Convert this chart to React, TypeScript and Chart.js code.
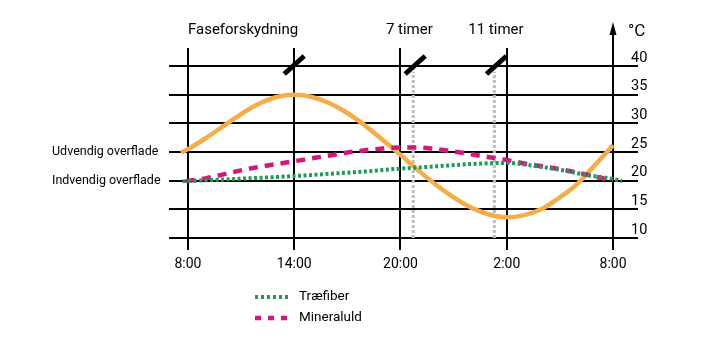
import React, { useEffect, useRef } from 'react';
import { Chart, registerables } from 'chart.js';

Chart.register(...registerables);

// ---- data ----
const hourTicks = [0, 6, 12, 18, 24];
const hourLabels = ['8:00', '14:00', '20:00', '2:00', '8:00'];
const tempTicks = [10, 15, 20, 25, 30, 35, 40];

const outsideHours = [-0.4, 0, 1, 2, 3, 4, 5, 6, 7, 8, 9, 10, 11, 12, 13, 14, 15, 16, 17, 18, 19, 20, 21, 22, 23, 24];
const outsideTemps = [24.9, 25.5, 27.4, 29.5, 31.6, 33.4, 34.6, 35.0, 34.6, 33.5, 31.8, 29.6, 27.1, 24.5, 21.8, 19.3, 17.1, 15.3, 14.1, 13.6, 14.0, 15.1, 17.1, 19.5, 22.8, 26.2];

const woodHours = [-0.3, 2, 4, 6, 8, 10, 12, 14, 16, 18, 19.5, 21, 22.5, 24, 24.5];
const woodTemps = [19.9, 20.2, 20.5, 20.8, 21.2, 21.6, 22.1, 22.5, 22.9, 23.1, 22.6, 21.9, 21.0, 20.3, 19.9];

const mineralHours = [-0.1, 1, 2, 3, 4, 5, 6, 7, 8, 9, 10, 11, 12, 13, 14, 15, 16, 17, 18, 19, 20, 21, 22, 23, 24];
const mineralTemps = [19.9, 20.4, 21.1, 21.8, 22.4, 22.9, 23.4, 23.9, 24.4, 24.9, 25.3, 25.6, 25.8, 25.8, 25.5, 25.1, 24.6, 24.1, 23.6, 23.0, 22.5, 22.0, 21.4, 20.7, 20.0];

const delayHours = [12.72, 17.3];
const delayTop = 39.0;
const delayBottom = 10;

const slashHours = [6, 12.83, 17.42];
const phaseLabels = ['Faseforskydning', '7 timer', '11 timer'];
const phaseLabelHours = [0, 12.5, 17.39];

const surfaceLabels = ['Udvendig overflade', 'Indvendig overflade'];
const surfaceTemps = [25, 20];

const legendLabels = ['Træfiber', 'Mineraluld'];

const ORANGE = '#F6AC47';
const GREEN = '#1F9B57';
const MAGENTA = '#D4167F';
const GRAY = '#BDBDBD';
const FONT = 'Roboto';

const pts = (xs: number[], ys: number[]) => xs.map((x, i) => ({ x, y: ys[i] }));

const decor = {
  id: 'decor',
  afterDatasetsDraw(chart: any) {
    const { ctx, scales } = chart;
    const x = scales.x;
    const y = scales.y;
    ctx.save();
    ctx.strokeStyle = '#000';
    ctx.lineWidth = 5;
    ctx.lineCap = 'butt';
    slashHours.forEach((h) => {
      const cx = x.getPixelForValue(h);
      const cy = y.getPixelForValue(40) - 1;
      ctx.beginPath();
      ctx.moveTo(cx - 10, cy + 9);
      ctx.lineTo(cx + 10, cy - 9);
      ctx.stroke();
    });
    ctx.restore();
  },
  afterDraw(chart: any) {
    const { ctx, scales, chartArea } = chart;
    const x = scales.x;
    const y = scales.y;
    ctx.save();
    ctx.fillStyle = '#000';

    // x tick labels
    ctx.font = `14px ${FONT}`;
    ctx.textAlign = 'center';
    ctx.textBaseline = 'middle';
    x.ticks.forEach((t: any) => {
      const i = hourTicks.indexOf(t.value);
      if (i >= 0) ctx.fillText(hourLabels[i], x.getPixelForValue(t.value), chartArea.bottom + 14);
    });

    // y tick labels (right side, above the lines)
    ctx.font = `14.5px ${FONT}`;
    ctx.textAlign = 'left';
    y.ticks.forEach((t: any) => {
      ctx.fillText(String(t.value), chartArea.right - 7, y.getPixelForValue(t.value) - 8);
    });

    // right axis extension with arrow
    const ax = Math.round(x.getPixelForValue(24));
    ctx.strokeStyle = '#000';
    ctx.lineWidth = 2;
    ctx.beginPath();
    ctx.moveTo(ax, chartArea.top + 1);
    ctx.lineTo(ax, 30);
    ctx.stroke();
    ctx.beginPath();
    ctx.moveTo(ax, 22);
    ctx.lineTo(ax - 3.5, 35);
    ctx.lineTo(ax + 3.5, 35);
    ctx.closePath();
    ctx.fill();
    ctx.font = `17px ${FONT}`;
    ctx.textAlign = 'left';
    ctx.fillText('°C', ax + 15, 32);

    // top labels
    ctx.font = `15px ${FONT}`;
    phaseLabels.forEach((t, i) => {
      ctx.textAlign = i === 0 ? 'left' : 'center';
      ctx.fillText(t, x.getPixelForValue(phaseLabelHours[i]), 30);
    });

    // surface labels
    ctx.font = `12.5px ${FONT}`;
    ctx.textAlign = 'left';
    surfaceLabels.forEach((t, i) => {
      ctx.fillText(t, 52, y.getPixelForValue(surfaceTemps[i]));
    });

    // legend
    const legendStyles = [
      { color: GREEN, dash: [3, 3], width: 4 },
      { color: MAGENTA, dash: [6, 7], width: 4.5 },
    ];
    const legendY = [297, 318];
    legendLabels.forEach((t, i) => {
      const s = legendStyles[i];
      ctx.strokeStyle = s.color;
      ctx.lineWidth = s.width;
      ctx.setLineDash(s.dash);
      ctx.beginPath();
      ctx.moveTo(255, legendY[i]);
      ctx.lineTo(290, legendY[i]);
      ctx.stroke();
      ctx.setLineDash([]);
      ctx.fillStyle = '#000';
      ctx.font = `13.5px ${FONT}`;
      ctx.textAlign = 'left';
      ctx.fillText(t, 299, legendY[i]);
    });
    ctx.restore();
  },
};

export default function App() {
  const ref = useRef<HTMLCanvasElement>(null);
  useEffect(() => {
    const datasets: any[] = [
      {
        label: 'Træfiber',
        data: pts(woodHours, woodTemps),
        borderColor: GREEN,
        borderWidth: 4,
        borderDash: [3, 2.5],
        pointRadius: 0,
        cubicInterpolationMode: 'monotone',
        order: 0,
      },
      {
        label: 'Mineraluld',
        data: pts(mineralHours, mineralTemps),
        borderColor: MAGENTA,
        borderWidth: 4.5,
        borderDash: [9, 7],
        pointRadius: 0,
        cubicInterpolationMode: 'monotone',
        order: 1,
      },
      {
        label: 'Udvendig',
        data: pts(outsideHours, outsideTemps),
        borderColor: ORANGE,
        borderWidth: 4.5,
        pointRadius: 0,
        cubicInterpolationMode: 'monotone',
        order: 2,
      },
      ...delayHours.map((h) => ({
        label: 'delay',
        data: [
          { x: h, y: delayBottom },
          { x: h, y: delayTop },
        ],
        borderColor: GRAY,
        borderWidth: 3,
        borderDash: [3, 2],
        pointRadius: 0,
        order: 3,
      })),
    ];
    const chart = new Chart(ref.current as HTMLCanvasElement, {
      type: 'line',
      data: { datasets },
      plugins: [decor],
      options: {
        animation: false,
        responsive: false,
        devicePixelRatio: 1,
        layout: { padding: { left: 169, top: 48, right: 90, bottom: 89 } },
        plugins: { legend: { display: false }, tooltip: { enabled: false } },
        scales: {
          x: {
            type: 'linear',
            min: -1.07,
            max: 25.41,
            afterBuildTicks: (axis: any) => {
              axis.ticks = hourTicks.map((v) => ({ value: v }));
            },
            grid: { color: '#000', lineWidth: 2, drawTicks: false },
            border: { display: false },
            ticks: { display: false },
          },
          y: {
            type: 'linear',
            position: 'right',
            min: 7.91,
            max: 43.14,
            afterBuildTicks: (axis: any) => {
              axis.ticks = tempTicks.map((v) => ({ value: v }));
            },
            grid: { color: '#000', lineWidth: 2, drawTicks: false },
            border: { display: false },
            ticks: { display: false },
          },
        },
      } as any,
    });
    return () => chart.destroy();
  }, []);
  return (
    <div style={{ position: 'absolute', left: 0, top: 0, width: 728, height: 339, background: '#fff' }}>
      <canvas ref={ref} width={728} height={339} style={{ display: 'block', width: 728, height: 339 }} />
    </div>
  );
}
